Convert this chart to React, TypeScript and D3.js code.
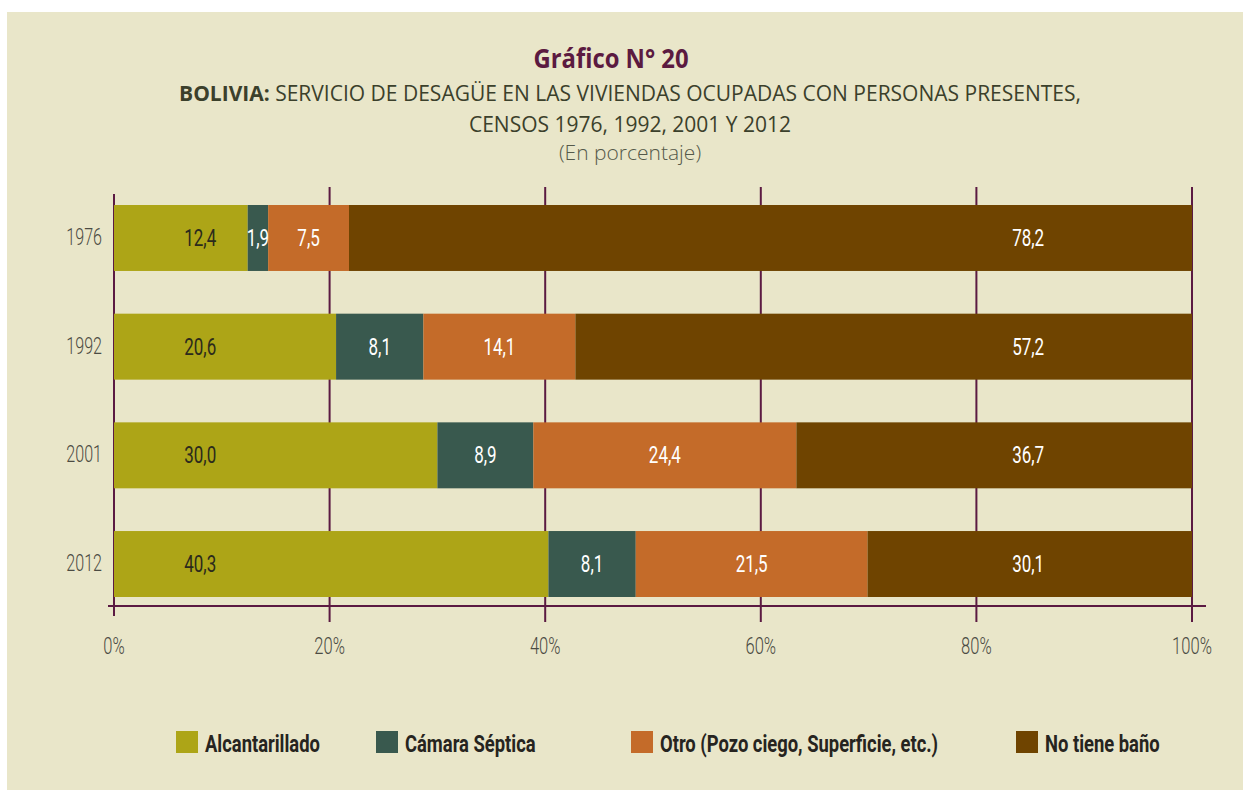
import React from "react";
import * as d3 from "d3";

const years = ["1976", "1992", "2001", "2012"];
const alcantarillado = [12.4, 20.6, 30.0, 40.3];
const camaraSeptica = [1.9, 8.1, 8.9, 8.1];
const otro = [7.5, 14.1, 24.4, 21.5];
const noTieneBano = [78.2, 57.2, 36.7, 30.1];
const seriesNames = [
  "Alcantarillado",
  "Cámara Séptica",
  "Otro (Pozo ciego, Superficie, etc.)",
  "No tiene baño",
];
const xTicks = [0, 20, 40, 60, 80, 100];

const W = 1243;
const H = 790;
const colors = ["#ada517", "#39594e", "#c46b29", "#6f4400"];
const labelColors = ["#2b2a1c", "#ffffff", "#ffffff", "#ffffff"];
const gridColor = "#5b1a42";
const bg = "#e9e6c9";
const cond = "Roboto, 'Noto Sans', sans-serif";
const sans = "'Open Sans', 'Noto Sans', sans-serif";

const keys = ["a", "c", "o", "n"];
const rows = years.map((y, i) => ({
  year: y,
  a: alcantarillado[i],
  c: camaraSeptica[i],
  o: otro[i],
  n: noTieneBano[i],
}));

const fmt = d3.formatLocale({
  decimal: ",",
  thousands: ".",
  grouping: [3],
  currency: ["", ""],
}).format(".1f");

// Condensed text: a normal font squeezed horizontally
function CText(props: {
  x: number;
  y: number;
  sx: number;
  anchor?: string;
  size: number;
  weight?: number;
  fill: string;
  children: React.ReactNode;
}) {
  return (
    <text
      transform={`translate(${props.x},${props.y}) scale(${props.sx},1)`}
      textAnchor={props.anchor || "start"}
      fontFamily={cond}
      fontSize={props.size}
      fontWeight={props.weight || 400}
      fill={props.fill}
    >
      {props.children}
    </text>
  );
}

export default function App() {
  const x = d3.scaleLinear().domain([0, 100]).range([114, 1192]);
  const y = d3
    .scaleBand<string>()
    .domain(years)
    .range([183.65, 618.35])
    .paddingInner(0.393)
    .paddingOuter(0.1965);
  const stack = d3.stack<any>().keys(keys)(rows as any);
  const axisY = 606;
  const legendX = [176, 376, 631, 1016];
  const legendY = 731;
  const mid = (yr: string) => (y(yr) as number) + y.bandwidth() / 2;

  return (
    <svg
      width={W}
      height={H}
      style={{ position: "absolute", left: 0, top: 0, background: "#ffffff" }}
    >
      <rect x={7} y={12} width={W - 7} height={H - 12} fill={bg} />

      {/* Titles */}
      <text
        transform="translate(611,68) scale(0.9,1)"
        textAnchor="middle"
        fontFamily={sans}
        fontWeight={700}
        fontSize={26.5}
        fill="#5b1a40"
      >
        Gráfico N° 20
      </text>
      <text
        x={630}
        y={101}
        textAnchor="middle"
        fontFamily={sans}
        fontSize={21}
        fill="#3b402b"
      >
        <tspan fontWeight={700}>BOLIVIA:</tspan>
        <tspan> SERVICIO DE DESAGÜE EN LAS VIVIENDAS OCUPADAS CON PERSONAS PRESENTES,</tspan>
      </text>
      <text
        x={630}
        y={132}
        textAnchor="middle"
        fontFamily={sans}
        fontSize={21}
        fill="#3b402b"
      >
        CENSOS 1976, 1992, 2001 Y 2012
      </text>
      <text
        x={630}
        y={160}
        textAnchor="middle"
        fontFamily={sans}
        fontWeight={300}
        fontSize={21}
        fill="#55594a"
      >
        (En porcentaje)
      </text>

      {/* Gridlines */}
      {xTicks.map((t) => (
        <line
          key={"g" + t}
          x1={x(t)}
          x2={x(t)}
          y1={t === 0 ? 194 : 187}
          y2={t === 0 ? 616 : 622}
          stroke={gridColor}
          strokeWidth={2}
        />
      ))}
      <line x1={108} x2={1206} y1={axisY} y2={axisY} stroke={gridColor} strokeWidth={2} />

      {/* Bars */}
      {stack.map((s, si) =>
        s.map((d, i) => (
          <rect
            key={si + "-" + i}
            x={x(d[0])}
            width={x(d[1]) - x(d[0])}
            y={y(years[i])}
            height={y.bandwidth()}
            fill={colors[si]}
          />
        ))
      )}

      {/* Value labels */}
      {stack.map((s, si) =>
        s.map((d, i) => {
          const v = d[1] - d[0];
          let cx = (x(d[0]) + x(d[1])) / 2;
          if (si === 0) cx = x(8);
          if (si === keys.length - 1) cx = x(84.8);
          return (
            <CText
              key={"l" + si + "-" + i}
              x={cx}
              y={mid(years[i]) + 8}
              sx={0.74}
              anchor="middle"
              size={23}
              fill={labelColors[si]}
            >
              {fmt(v)}
            </CText>
          );
        })
      )}

      {/* Year labels */}
      {years.map((yr) => (
        <CText
          key={"y" + yr}
          x={102}
          y={mid(yr) + 7}
          sx={0.7}
          anchor="end"
          size={23}
          weight={300}
          fill="#4b4b43"
        >
          {yr}
        </CText>
      ))}

      {/* X tick labels */}
      {xTicks.map((t) => (
        <CText
          key={"t" + t}
          x={x(t)}
          y={654}
          sx={0.72}
          anchor="middle"
          size={23}
          weight={300}
          fill="#4b4b43"
        >
          {t + "%"}
        </CText>
      ))}

      {/* Legend */}
      {seriesNames.map((n, i) => (
        <g key={"lg" + i}>
          <rect x={legendX[i]} y={legendY} width={22} height={22} fill={colors[i]} />
          <CText
            x={legendX[i] + 29}
            y={legendY + 21}
            sx={0.8}
            size={23}
            weight={700}
            fill="#262420"
          >
            {n}
          </CText>
        </g>
      ))}
    </svg>
  );
}
